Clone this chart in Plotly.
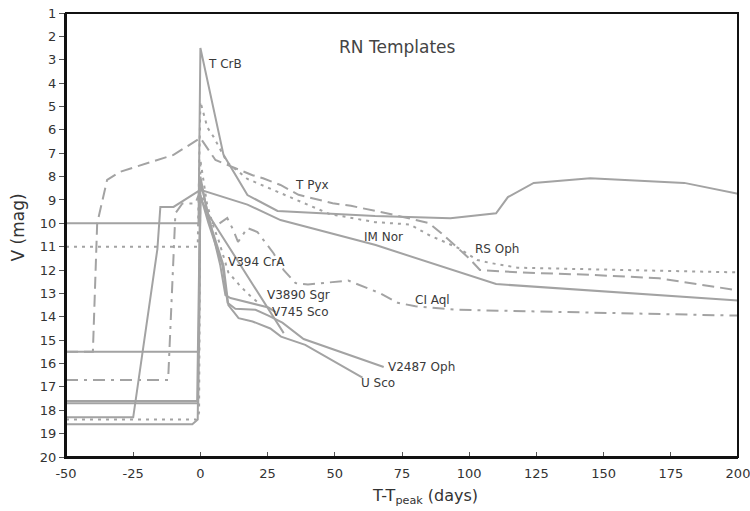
import plotly.graph_objects as go

# ---- data (day since peak, V mag) ----
tcrb_x = [-50, -0.7, 0, 8.6, 17.5, 28.7, 65, 93, 110, 114.4, 124, 145, 180, 200]
tcrb_y = [10.0, 10.0, 2.5, 7.07, 8.79, 9.47, 9.69, 9.78, 9.57, 8.88, 8.27, 8.07, 8.27, 8.74]

rsoph_x = [-50, -1, 0, 2.6, 4.9, 10, 17.5, 29.8, 48, 65, 78, 85, 96, 103, 108, 118, 189, 200]
rsoph_y = [11.0, 11.0, 4.8, 5.9, 6.3, 7.4, 8.1, 8.7, 9.6, 9.95, 10.05, 10.5, 11.06, 11.57, 11.7, 11.9, 12.1, 12.1]

tpyx_x = [-50, -40, -38.4, -34.7, -30, -10, 0, 5.6, 10, 14.9, 19.4, 23.3, 29.8, 36.5, 49.2, 56, 72, 85, 89.4, 100, 104, 118.5, 144.5, 170.6, 200]
tpyx_y = [15.5, 15.5, 10.0, 8.14, 7.8, 7.07, 6.35, 7.29, 7.5, 7.73, 7.94, 8.07, 8.36, 8.78, 9.14, 9.25, 9.64, 9.99, 10.4, 11.5, 12.0, 12.1, 12.2, 12.35, 12.87]

imnor_x = [-50, -25, -16, -14.9, -10, 0, 17.5, 29.8, 65.2, 110, 200]
imnor_y = [18.3, 18.3, 11.1, 9.3, 9.3, 8.57, 9.2, 9.86, 10.93, 12.6, 13.3]

ciaql_x = [-50, -12, -9.3, -6.7, -1.9, 0, 3.7, 6.3, 10, 12.3, 14, 17.5, 21.2, 24.2, 27.2, 31, 35.4, 40, 55, 67, 73.4, 80, 95, 200]
ciaql_y = [16.7, 16.7, 9.57, 9.15, 9.15, 8.6, 9.95, 10.07, 9.77, 10.3, 10.8, 10.2, 10.37, 10.8, 11.28, 12.0, 12.56, 12.62, 12.45, 13.0, 13.4, 13.55, 13.7, 13.95]

v394_x = [-50, -5.6, -1.5, -0.5, 0, 2.5, 5, 6.7, 10.4, 14.2, 17.5, 21]
v394_y = [18.4, 18.4, 18.4, 18.1, 7.3, 9.2, 10.2, 10.7, 12.1, 12.6, 13.0, 13.35]

v3890_x = [-50, -1.9, -0.5, 0, 3, 7.4, 9.3, 11.2, 25.3, 28]
v3890_y = [15.5, 15.5, 15.5, 8.2, 9.7, 11.8, 13.07, 13.2, 13.6, 13.8]

v745_x = [-50, -3, -1, 0, 2.6, 16, 31]
v745_y = [18.6, 18.6, 18.4, 8.9, 9.56, 12.0, 14.7]

usco_x = [-50, -1.2, 0, 3, 8.6, 10.4, 14.2, 19.4, 26, 30, 39, 60.3]
usco_y = [17.6, 17.6, 8.0, 9.8, 11.8, 13.5, 14.06, 14.2, 14.5, 14.85, 15.2, 16.6]

v2487_x = [-50, -0.8, 0, 3, 8.2, 10.1, 13, 20.5, 25.3, 30.5, 38.4, 57, 68.2]
v2487_y = [17.7, 17.7, 8.8, 10.0, 11.8, 13.4, 13.66, 13.7, 13.95, 14.25, 14.95, 15.7, 16.15]

label_text = ["T CrB", "T Pyx", "IM Nor", "RS Oph", "V394 CrA", "V3890 Sgr",
              "V745 Sco", "CI Aql", "V2487 Oph", "U Sco"]
label_x = [1.9, 34.3, 60.3, 101.3, 9.7, 24.2, 26.0, 79.0, 69.0, 59.0]
label_y = [3.2, 8.35, 10.6, 11.1, 11.67, 13.07, 13.8, 13.3, 16.15, 16.84]

x_ticks = [-50, -25, 0, 25, 50, 75, 100, 125, 150, 175, 200]
x_ticktext = ["-50", "-25", "0", "25", "50", "75", "100", "125", "150", "175", "200"]
y_ticks = list(range(1, 21))

GRAY = "#a3a3a3"
LONG = "12px,6px"
DOT = "3px,5px"
DASHDOT = "12px,6px,3px,6px"

series = [
    ("T CrB", tcrb_x, tcrb_y, "solid"),
    ("RS Oph", rsoph_x, rsoph_y, DOT),
    ("T Pyx", tpyx_x, tpyx_y, LONG),
    ("IM Nor", imnor_x, imnor_y, "solid"),
    ("CI Aql", ciaql_x, ciaql_y, DASHDOT),
    ("V394 CrA", v394_x, v394_y, DOT),
    ("V3890 Sgr", v3890_x, v3890_y, "solid"),
    ("V745 Sco", v745_x, v745_y, "solid"),
    ("U Sco", usco_x, usco_y, "solid"),
    ("V2487 Oph", v2487_x, v2487_y, "solid"),
]

fig = go.Figure()
for name, xs, ys, dash in series:
    fig.add_trace(go.Scatter(x=xs, y=ys, mode="lines", name=name,
                             line=dict(color=GRAY, width=2, dash=dash)))

for t, x, y in zip(label_text, label_x, label_y):
    fig.add_annotation(x=x, y=y, text=t, showarrow=False, xanchor="left",
                       yanchor="middle", font=dict(size=12, color="#3a3a3a",
                                                   family="DejaVu Sans"))

fig.add_annotation(x=73.5, y=2.45, text="RN Templates", showarrow=False,
                   xanchor="center", yanchor="middle",
                   font=dict(size=17, color="#444444", family="DejaVu Sans"))

# axis titles
fig.add_annotation(xref="paper", yref="paper", x=0.534, y=-0.09,
                   text="T-T<sub>peak</sub> (days)", showarrow=False,
                   xanchor="center", yanchor="middle",
                   font=dict(size=16, color="#333333", family="DejaVu Sans"))
fig.add_annotation(xref="paper", yref="paper", x=-0.072, y=0.516,
                   text="V (mag)", showarrow=False, textangle=-90,
                   xanchor="center", yanchor="middle",
                   font=dict(size=17, color="#333333", family="DejaVu Sans"))

# frame
fig.add_shape(type="rect", xref="paper", yref="paper", x0=0, x1=1, y0=0, y1=1,
              line=dict(color="#111111", width=2), layer="above")

fig.update_layout(
    width=750, height=511,
    margin=dict(l=66, r=12, t=13, b=54, autoexpand=False),
    paper_bgcolor="white", plot_bgcolor="white",
    showlegend=False,
    font=dict(family="DejaVu Sans", color="#333333"),
)
fig.update_xaxes(range=[-50, 200], tickvals=x_ticks, ticktext=x_ticktext,
                 ticks="inside", ticklen=5, automargin=False,
                 ticklabeloverflow="allow", ticklabelstandoff=3,
                 tickcolor="#555", showgrid=False, zeroline=False,
                 showline=True, linecolor="#111", linewidth=2,
                 tickfont=dict(size=13, color="#333"))
fig.update_yaxes(range=[20, 1], tickvals=y_ticks, ticks="outside", ticklen=5,
                 automargin=False,
                 tickcolor="#555", showgrid=False, zeroline=False,
                 showline=True, linecolor="#111", linewidth=2,
                 tickfont=dict(size=13, color="#333"))

fig.write_html("out.html", config={"displayModeBar": False},
               post_script="document.body.style.margin='0';document.body.style.overflow='hidden';")
